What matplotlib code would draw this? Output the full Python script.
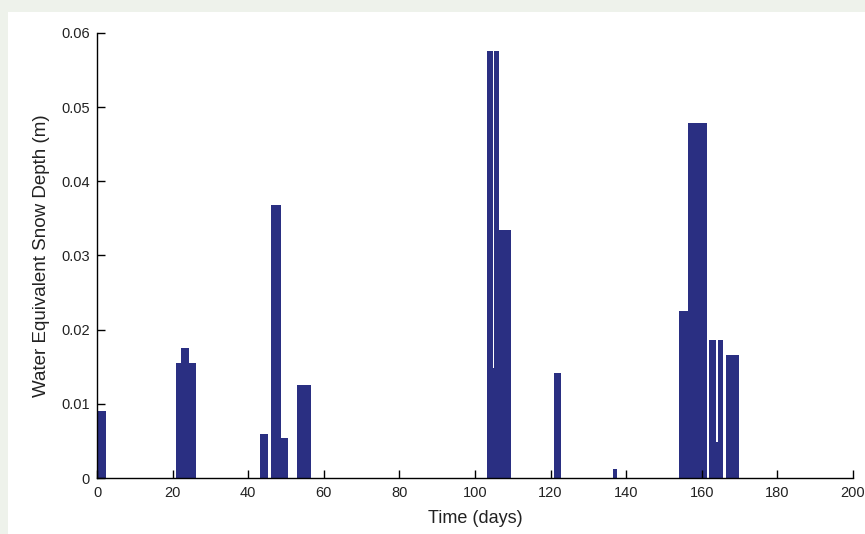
import matplotlib.pyplot as plt
from matplotlib.patches import Rectangle

# snow events: start day, end day, water equivalent depth (m)
t_start = [0.0, 20.8, 22.1, 24.3, 43.1, 45.9, 48.8, 53.0,
           103.3, 104.7, 105.1, 106.4, 120.9, 136.4,
           154.0, 156.4, 161.9, 163.7, 164.3, 166.3]
t_end = [2.4, 22.3, 24.3, 26.2, 45.3, 48.7, 50.4, 56.5,
         104.7, 105.1, 106.4, 109.6, 122.8, 137.6,
         156.4, 161.5, 163.7, 164.3, 165.7, 169.9]
depth = [0.0090, 0.0155, 0.0175, 0.0155, 0.0060, 0.0368, 0.0054, 0.0125,
         0.0576, 0.0148, 0.0576, 0.0335, 0.0142, 0.0012,
         0.0225, 0.0479, 0.0186, 0.0049, 0.0186, 0.0166]

x_ticks = list(range(0, 201, 20))
y_ticks = [0, 0.01, 0.02, 0.03, 0.04, 0.05, 0.06]
y_labels = ['0', '0.01', '0.02', '0.03', '0.04', '0.05', '0.06']

plt.rcParams['font.family'] = ['Liberation Sans', 'DejaVu Sans']

fig = plt.figure(figsize=(8.65, 5.34), dpi=100)
fig.patch.set_facecolor('#eef2eb')
fig.patches.append(Rectangle((8/865, 0), 1, 522/534, transform=fig.transFigure,
                             facecolor='white', edgecolor='none', zorder=-10))

ax = fig.add_axes([97/865, 56/534, 756/865, 445/534])
ax.set_zorder(5)
ax.set_facecolor('none')

widths = [e - s for s, e in zip(t_start, t_end)]
ax.bar(t_start, depth, width=widths, align='edge', color='#2a2f82',
       edgecolor='none', linewidth=0)

ax.set_xlim(0, 200)
ax.set_ylim(0, 0.06)
ax.set_xticks(x_ticks)
ax.set_yticks(y_ticks)
ax.set_yticklabels(y_labels)

for s in ['top', 'right']:
    ax.spines[s].set_visible(False)
for s in ['left', 'bottom']:
    ax.spines[s].set_linewidth(1.0)
    ax.spines[s].set_color('black')

ax.tick_params(direction='in', length=5.5, width=1.0, labelsize=10.5,
               labelcolor='#222222', pad=5)
ax.tick_params(axis='x', pad=6)

ax.set_xlabel('Time (days)', fontsize=13, color='#222222', labelpad=7)
ax.set_ylabel('Water Equivalent Snow Depth (m)', fontsize=13.5, color='#222222',
              labelpad=8)

plt.savefig('out.png', dpi=100, facecolor=fig.get_facecolor())
